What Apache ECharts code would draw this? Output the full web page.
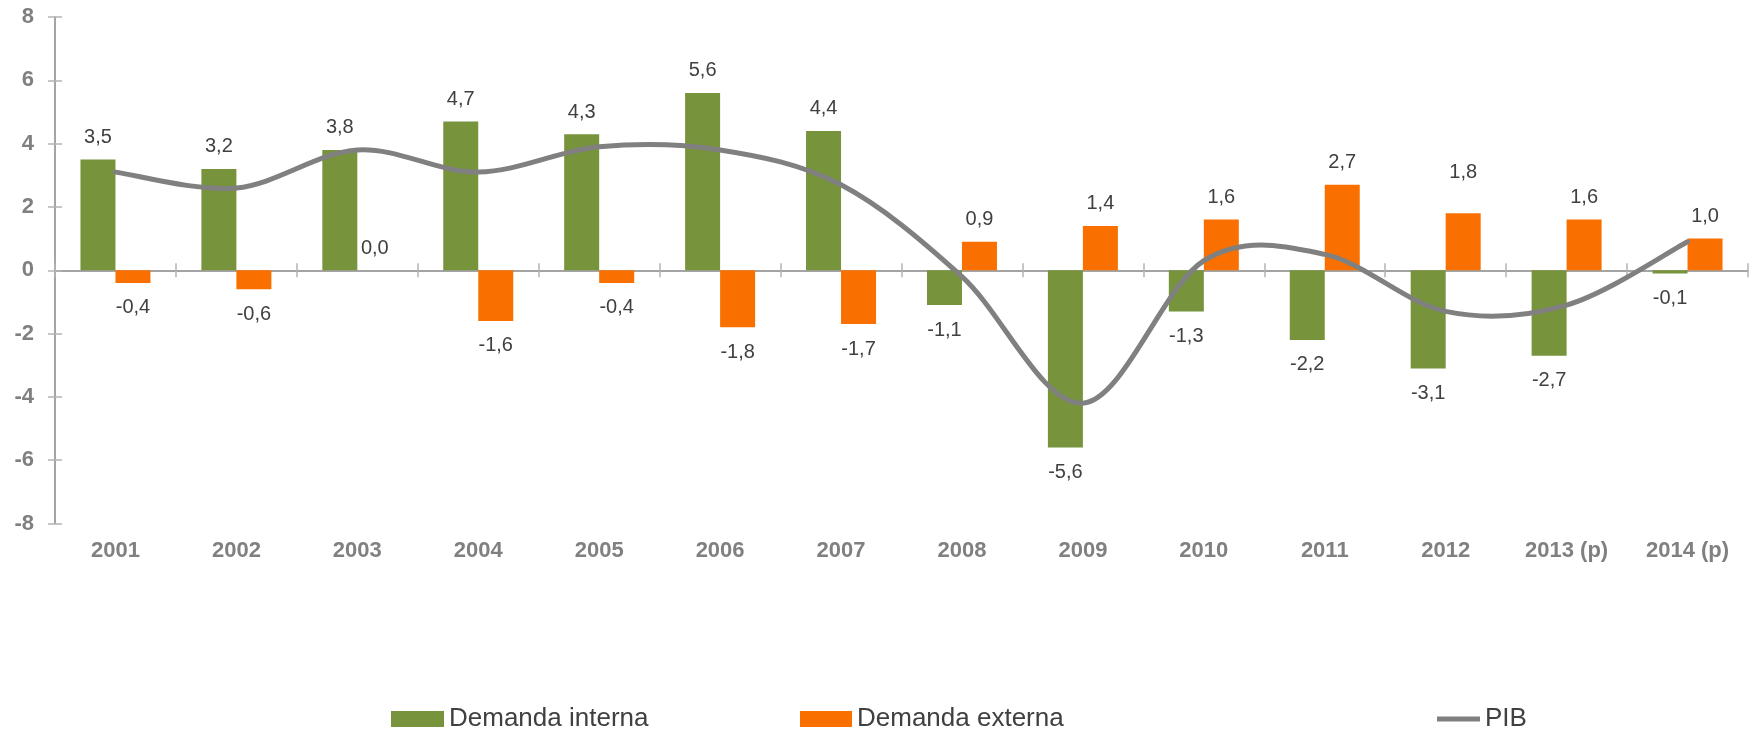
<!DOCTYPE html>
<html>
<head>
<meta charset="utf-8">
<script src="https://cdn.jsdelivr.net/npm/echarts@6/dist/echarts.min.js"></script>
<style>
  html, body { margin: 0; padding: 0; background: #fff; }
  #chart { width: 1751px; height: 731px; }
</style>
</head>
<body>
<div id="chart"></div>
<script>
// categorías (años)
var years = ['2001', '2002', '2003', '2004', '2005', '2006', '2007', '2008', '2009', '2010', '2011', '2012', '2013 (p)', '2014 (p)'];
// aportación de la demanda interna
var demandaInterna = [3.5, 3.2, 3.8, 4.7, 4.3, 5.6, 4.4, -1.1, -5.6, -1.3, -2.2, -3.1, -2.7, -0.1];
// aportación de la demanda externa
var demandaExterna = [-0.4, -0.6, 0.0, -1.6, -0.4, -1.8, -1.7, 0.9, 1.4, 1.6, 2.7, 1.8, 1.6, 1.0];
// PIB (línea)
var pib = [3.1, 2.6, 3.8, 3.1, 3.9, 3.8, 2.7, -0.2, -4.2, 0.3, 0.5, -1.3, -1.1, 0.9];

var FONT = '"Liberation Sans", Arial, sans-serif';
var AXIS_GREY = '#868686';
var TICK_GREY = '#b4b4b4';
var LABEL_DARK = '#404040';

function fmt(v) {
  return v.toFixed(1).replace('.', ',');
}

// etiquetas arriba para positivos, abajo para negativos
function barData(vals) {
  return vals.map(function (v, i) {
    var lbl = v >= 0
      ? { position: 'top', distance: 12 }
      : { position: 'bottom', distance: 15 };
    // la etiqueta 1,8 de 2012 está algo más alta en el original
    if (years[i] === '2012' && v >= 0) lbl.offset = [0, -19];
    return { value: v, label: lbl };
  });
}

// curva suavizada tipo Excel (Catmull-Rom), los puntos salen de api.coord
function renderPib(params, api) {
  if (params.dataIndex !== 0) return null;
  var pts = pib.map(function (v, i) { return api.coord([i, v]); });
  var n = pts.length;
  var d = 'M' + pts[0][0] + ',' + pts[0][1];
  for (var i = 0; i < n - 1; i++) {
    var p0 = pts[Math.max(i - 1, 0)];
    var p1 = pts[i];
    var p2 = pts[i + 1];
    var p3 = pts[Math.min(i + 2, n - 1)];
    var c1x = p1[0] + (p2[0] - p0[0]) / 6;
    var c1y = p1[1] + (p2[1] - p0[1]) / 6;
    var c2x = p2[0] - (p3[0] - p1[0]) / 6;
    var c2y = p2[1] - (p3[1] - p1[1]) / 6;
    d += ' C' + c1x + ',' + c1y + ' ' + c2x + ',' + c2y + ' ' + p2[0] + ',' + p2[1];
  }
  return {
    type: 'path',
    shape: { pathData: d },
    style: { fill: 'none', stroke: '#808080', lineWidth: 5, lineCap: 'round' }
  };
}

var chart = echarts.init(document.getElementById('chart'));

var option = {
  animation: false,
  textStyle: { fontFamily: FONT },
  grid: { left: 55, right: 3, top: 17, bottom: 207.5 },
  legend: [
    {
      data: ['Demanda interna'], left: 386, top: 701,
      icon: 'rect', itemWidth: 53, itemHeight: 16,
      textStyle: { fontSize: 26, color: LABEL_DARK, fontFamily: FONT }
    },
    {
      data: ['Demanda externa'], left: 795, top: 701,
      icon: 'rect', itemWidth: 52, itemHeight: 16,
      textStyle: { fontSize: 26, color: LABEL_DARK, fontFamily: FONT }
    },
    {
      data: [{ name: 'PIB', icon: 'path://M0,0H43V5H0Z' }], left: 1432, top: 701,
      itemWidth: 43, itemHeight: 5,
      textStyle: { fontSize: 26, color: LABEL_DARK, fontFamily: FONT }
    }
  ],
  xAxis: [
    {
      // etiquetas abajo
      type: 'category',
      data: years,
      position: 'bottom',
      axisLine: { show: false, onZero: false },
      axisTick: { show: false },
      axisLabel: {
        interval: 0, margin: 16,
        fontSize: 22, fontWeight: 'bold', color: '#808080', fontFamily: FONT
      }
    },
    {
      // línea del cero con marcas hacia abajo
      type: 'category',
      data: years,
      position: 'bottom',
      axisLine: { show: true, onZero: true, onZeroAxisIndex: 0, lineStyle: { color: AXIS_GREY, width: 1.5 } },
      axisTick: { show: true, length: 7, lineStyle: { color: TICK_GREY, width: 1.5 } },
      axisLabel: { show: false }
    },
    {
      // marcas hacia arriba
      type: 'category',
      data: years,
      position: 'bottom',
      axisLine: { show: false, onZero: true, onZeroAxisIndex: 0 },
      axisTick: { show: true, inside: true, length: 7, lineStyle: { color: TICK_GREY, width: 1.5 } },
      axisLabel: { show: false }
    }
  ],
  yAxis: [
    {
      type: 'value',
      min: -8, max: 8, interval: 2,
      axisLine: { show: true, lineStyle: { color: AXIS_GREY, width: 1.5 } },
      axisTick: { show: true, length: 7, lineStyle: { color: TICK_GREY, width: 1.5 } },
      splitLine: { show: false },
      axisLabel: {
        margin: 21,
        fontSize: 22, fontWeight: 'bold', color: '#808080', fontFamily: FONT
      }
    },
    {
      type: 'value',
      min: -8, max: 8, interval: 2,
      position: 'left',
      axisLine: { show: false },
      axisTick: { show: true, inside: true, length: 7, lineStyle: { color: TICK_GREY, width: 1.5 } },
      splitLine: { show: false },
      axisLabel: { show: false }
    }
  ],
  series: [
    {
      name: 'Demanda interna',
      type: 'bar',
      data: barData(demandaInterna),
      barWidth: 35,
      barGap: '0%',
      itemStyle: { color: '#77933c' },
      label: {
        show: true, fontSize: 20, color: LABEL_DARK, fontFamily: FONT,
        formatter: function (p) { return fmt(p.value); }
      }
    },
    {
      name: 'Demanda externa',
      type: 'bar',
      data: barData(demandaExterna),
      barWidth: 35,
      barGap: '0%',
      itemStyle: { color: '#f97000' },
      label: {
        show: true, fontSize: 20, color: LABEL_DARK, fontFamily: FONT,
        formatter: function (p) { return fmt(p.value); }
      }
    },
    {
      name: 'PIB',
      type: 'custom',
      coordinateSystem: 'cartesian2d',
      xAxisIndex: 0,
      yAxisIndex: 0,
      data: pib.map(function (v, i) { return [i, v]; }),
      encode: { x: 0, y: 1 },
      renderItem: renderPib,
      itemStyle: { color: '#808080' },
      clip: false,
      z: 5
    }
  ]
};

chart.setOption(option);
</script>
</body>
</html>
